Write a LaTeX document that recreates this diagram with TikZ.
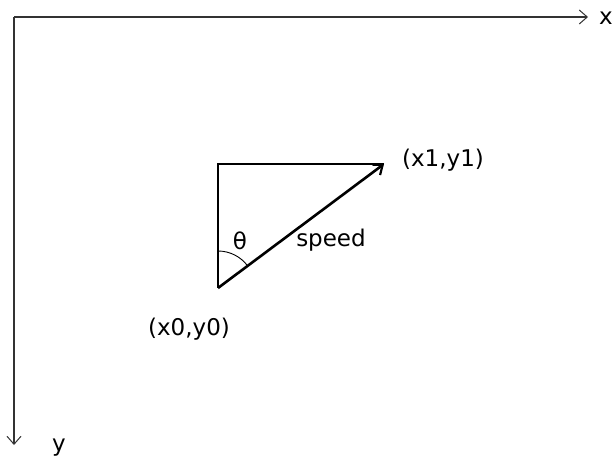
\documentclass[tikz,border=0pt]{standalone}
\usepackage{fontspec}
\setmainfont{DejaVu Sans}
\usetikzlibrary{arrows.meta}

\begin{document}
\begin{tikzpicture}[x=1pt,y=-1pt,
  ax/.style={draw=black!80,line width=1.4pt,-{Straight Barb[length=8pt,width=14pt,line width=1pt]}},
  tri/.style={draw=black,line width=1.6pt},
  spd/.style={draw=black,line width=2.6pt,-{Straight Barb[length=8pt,width=13pt,line width=2.2pt]}},
  lab/.style={font=\fontsize{23}{27}\selectfont,inner sep=1pt}]
  \useasboundingbox (0,0) rectangle (613,457);
  % axes: origin in the upper left, y grows downward
  \coordinate (o) at (14,17);
  \coordinate (xe) at (588,17);
  \coordinate (ye) at (14,445);
  \draw[ax] (o) -- (xe);
  \draw[ax] (o) -- (ye);
  \node[lab] (xl) at (606,18) {x};
  \node[lab] (yl) at (59,448) {y};
  % the move from (x0,y0) to (x1,y1)
  \coordinate (p0) at (218,288);
  \coordinate (pc) at (218,164);
  \coordinate (p1) at (384,164);
  \draw[tri] (p0) -- (pc) -- (p1);
  \draw[spd] (p0) -- (p1);
  \draw[line width=0.9pt] (218,251) arc[start angle=270,end angle=323.2,radius=37];
  \node[lab] (th) at (240,241) {θ};
  \node[lab] (sp) at (331,240) {speed};
  \node[lab] (l1) at (443,160) {(x1,y1)};
  \node[lab] (l0) at (189,329) {(x0,y0)};
\end{tikzpicture}
\end{document}
